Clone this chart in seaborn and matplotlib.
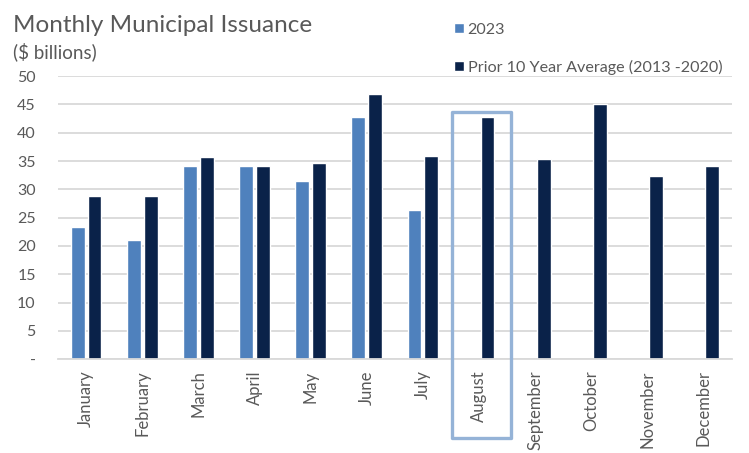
import numpy as np
import pandas as pd
import matplotlib
matplotlib.use("Agg")
import matplotlib.pyplot as plt
from matplotlib.patches import Rectangle
import seaborn as sns

months = ["January", "February", "March", "April", "May", "June", "July",
          "August", "September", "October", "November", "December"]
series_names = ["2023", "Prior 10 Year Average (2013 -2020)"]
values_2023 = [23.4, 21.0, 34.2, 34.1, 31.4, 42.8, 26.3]
values_prior = [28.8, 28.9, 35.7, 34.2, 34.6, 46.9, 35.8, 42.8, 35.3, 45.0, 32.3, 34.2]
ytick_values = [0, 5, 10, 15, 20, 25, 30, 35, 40, 45, 50]
ytick_labels = ["-", "5", "10", "15", "20", "25", "30", "35", "40", "45", "50"]

df = pd.concat([
    pd.DataFrame({"month": months[:len(values_2023)], "value": values_2023, "series": series_names[0]}),
    pd.DataFrame({"month": months, "value": values_prior, "series": series_names[1]}),
], ignore_index=True)

sns.set_theme(style="white")
plt.rcParams["font.family"] = ["Lato", "DejaVu Sans"]
text_color = "#595959"

fig = plt.figure(figsize=(7.49, 4.53), dpi=100)
ax = fig.add_axes([0.0774, 0.2068, 0.8996, 0.6254])

sns.barplot(data=df, x="month", y="value", hue="series", order=months,
            hue_order=series_names, palette=["#4F81BD", "#0A2249"],
            width=0.6, gap=0.18, errorbar=None, ax=ax, saturation=1)

ax.set_ylim(0, 50)
ax.set_xlim(-0.5, len(months) - 0.5)
ax.set_yticks(ytick_values)
ax.set_yticklabels(ytick_labels)
ax.yaxis.grid(True, color="#D9D9D9", linewidth=1.3)
ax.set_axisbelow(True)
for s in ["left", "right", "top"]:
    ax.spines[s].set_visible(False)
ax.spines["bottom"].set_color("#D9D9D9")
ax.spines["bottom"].set_linewidth(1.3)
ax.set_xlabel("")
ax.set_ylabel("")
ax.tick_params(axis="y", length=0, pad=16, labelsize=11.5, labelcolor=text_color)
ax.tick_params(axis="x", length=0, pad=8, labelsize=12, labelcolor=text_color, rotation=90)
for lab in ax.get_yticklabels():
    lab.set_horizontalalignment("right")

# highlight box around August
aug = months.index("August")
box = Rectangle((aug - 0.49, -13.8), 1.05, 43.6 + 13.8, fill=False,
                edgecolor="#95B3D7", linewidth=2.4, clip_on=False,
                joinstyle="round", transform=ax.transData, zorder=5)
ax.add_patch(box)

handles, labels = ax.get_legend_handles_labels()
ax.legend(handles, labels, loc="upper left", bbox_to_anchor=(0.578, 1.21),
          bbox_transform=ax.transAxes, frameon=False, fontsize=11.6,
          labelcolor=text_color, handlelength=0.6, handleheight=0.6,
          handletextpad=0.25, labelspacing=1.4, borderaxespad=0)

fig.text(0.018, 0.929, "Monthly Municipal Issuance", fontsize=17.5,
         color=text_color, ha="left", va="baseline")
fig.text(0.018, 0.872, "($ billions)", fontsize=13.5,
         color=text_color, ha="left", va="baseline")

fig.savefig("out.png", dpi=100)
